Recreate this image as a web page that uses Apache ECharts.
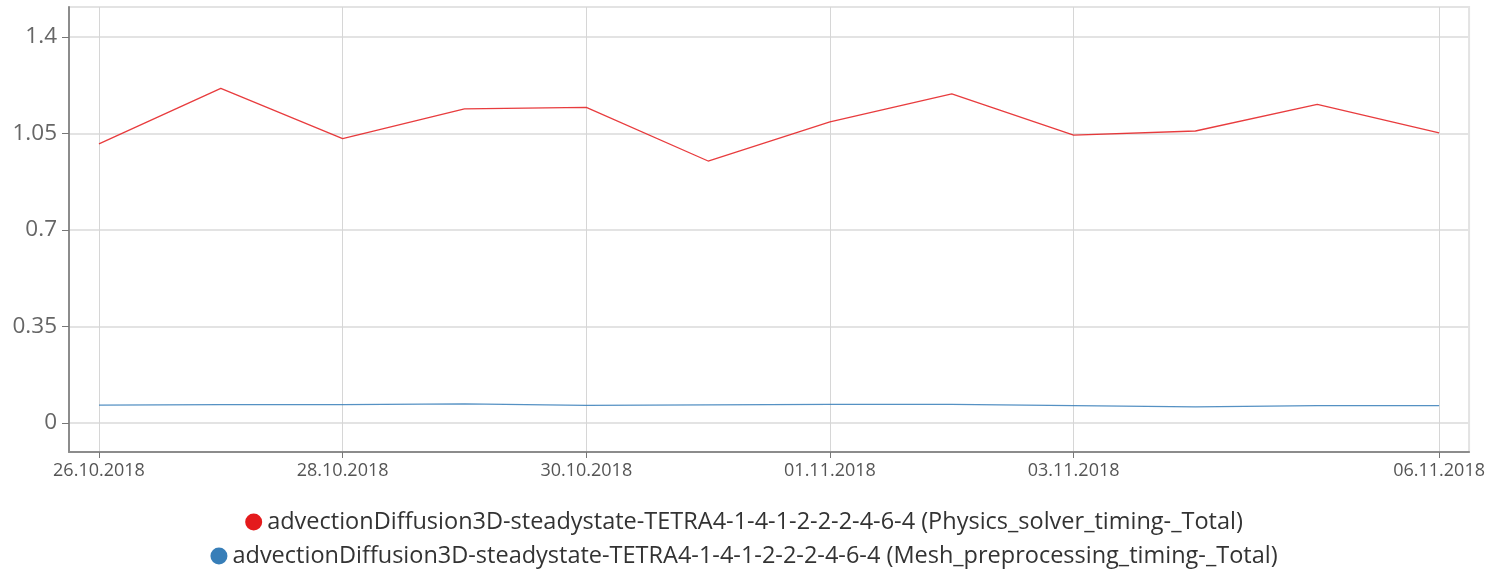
<!DOCTYPE html>
<html>
<head>
<meta charset="utf-8">
<script src="https://cdn.jsdelivr.net/npm/echarts@6/dist/echarts.min.js"></script>
<style>
  html, body { margin: 0; padding: 0; background: #fff; }
  #main { width: 1488px; height: 569px; }
</style>
</head>
<body>
<div id="main"></div>
<script>
// dates on the x axis (one point per day)
var dates = ['26.10.2018', '27.10.2018', '28.10.2018', '29.10.2018', '30.10.2018', '31.10.2018',
             '01.11.2018', '02.11.2018', '03.11.2018', '04.11.2018', '05.11.2018', '06.11.2018'];
var xTickIdx = [0, 2, 4, 6, 8, 11];
var yTicks = [0, 0.35, 0.7, 1.05, 1.4];

var seriesNames = [
    'advectionDiffusion3D-steadystate-TETRA4-1-4-1-2-2-2-4-6-4 (Physics_solver_timing-_Total)',
    'advectionDiffusion3D-steadystate-TETRA4-1-4-1-2-2-2-4-6-4 (Mesh_preprocessing_timing-_Total)'
];
var solverTiming = [1.012, 1.214, 1.031, 1.139, 1.145, 0.950, 1.092, 1.194, 1.044, 1.059, 1.156, 1.052];
var meshTiming = [0.064, 0.066, 0.066, 0.069, 0.063, 0.065, 0.067, 0.067, 0.062, 0.058, 0.062, 0.062];

var colors = ['#e41a1c', '#377eb8'];
var fontFamily = '"Open Sans", "Noto Sans", sans-serif';

function toPoints(values) {
    return values.map(function (v, i) { return [i, v]; });
}

function legendRow(name, color, top) {
    return {
        data: [{ name: name, itemStyle: { color: color } }],
        left: 'center',
        top: top,
        icon: 'circle',
        itemWidth: 17,
        itemHeight: 17,
        textStyle: { fontSize: 23.5, color: '#333', fontFamily: fontFamily }
    };
}

var myChart = echarts.init(document.getElementById('main'));

var option = {
    animation: false,
    color: colors,
    grid: {
        left: 69,
        right: 15,
        top: 7,
        bottom: 117,
        show: true,
        borderColor: '#e3e3e3',
        borderWidth: 2
    },
    legend: [
        legendRow(seriesNames[0], colors[0], 505),
        legendRow(seriesNames[1], colors[1], 539)
    ],
    xAxis: {
        type: 'value',
        min: -0.246,
        max: 11.246,
        axisLine: { show: true, onZero: false, lineStyle: { color: '#8c8c8c', width: 2 } },
        axisTick: {
            show: true,
            length: 6,
            customValues: xTickIdx,
            lineStyle: { color: '#777', width: 1 }
        },
        axisLabel: {
            customValues: xTickIdx,
            margin: 10,
            color: '#555',
            fontSize: 18,
            fontFamily: fontFamily,
            formatter: function (v) { return dates[Math.round(v)]; }
        },
        splitLine: { show: true, lineStyle: { color: '#d6d6d6', width: 1 } }
    },
    yAxis: {
        type: 'value',
        min: -0.106,
        max: 1.509,
        axisLine: { show: true, onZero: false, lineStyle: { color: '#8c8c8c', width: 2 } },
        axisTick: {
            show: true,
            length: 7,
            customValues: yTicks,
            lineStyle: { color: '#777', width: 1 }
        },
        axisLabel: {
            customValues: yTicks,
            margin: 12,
            color: '#666',
            fontSize: 22.5,
            fontFamily: fontFamily
        },
        splitLine: { show: true, lineStyle: { color: '#e3e3e3', width: 2 } }
    },
    series: [
        {
            name: seriesNames[0],
            type: 'line',
            symbol: 'none',
            lineStyle: { color: colors[0], width: 1.3, opacity: 0.85 },
            data: toPoints(solverTiming)
        },
        {
            name: seriesNames[1],
            type: 'line',
            symbol: 'none',
            lineStyle: { color: colors[1], width: 1.3, opacity: 0.85 },
            data: toPoints(meshTiming)
        }
    ]
};

myChart.setOption(option);
</script>
</body>
</html>
